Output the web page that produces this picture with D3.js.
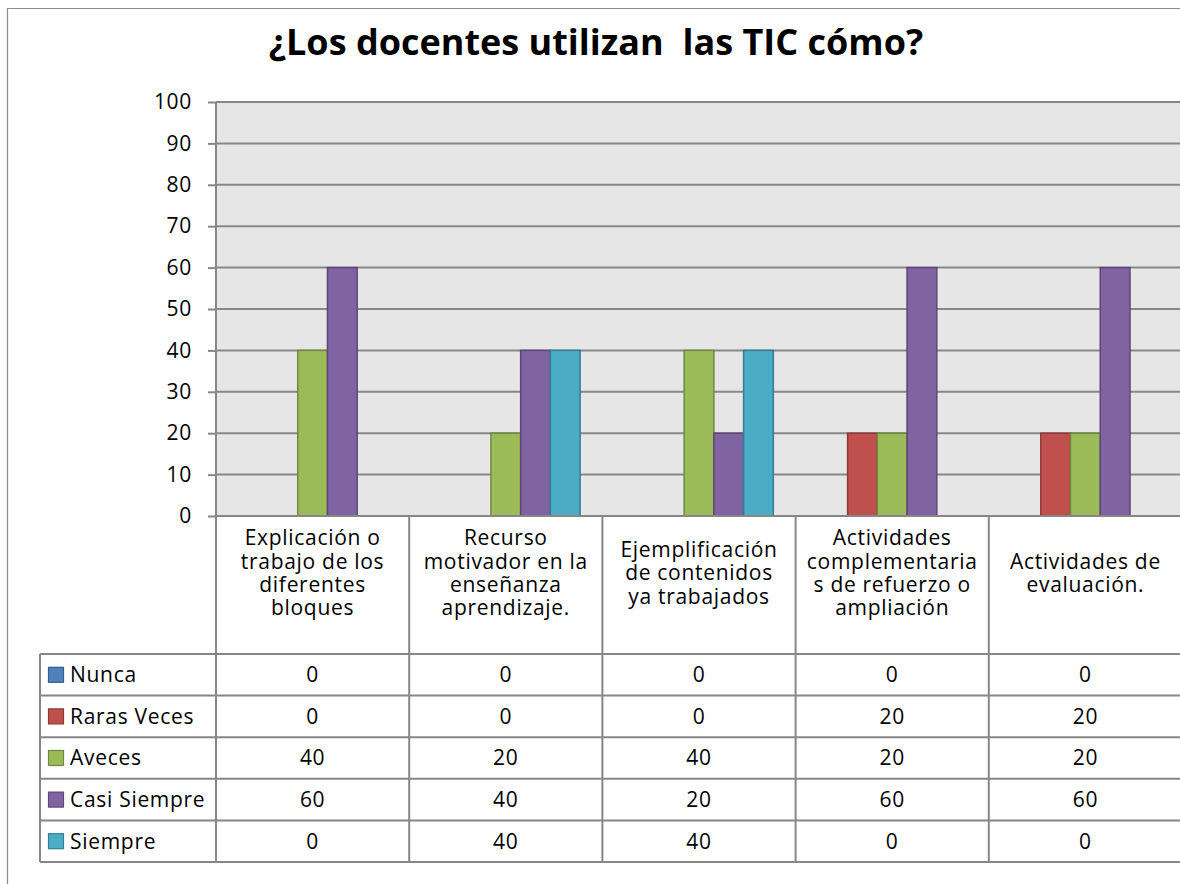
<!DOCTYPE html>
<html>
<head>
<meta charset="utf-8">
<script src="https://cdnjs.cloudflare.com/ajax/libs/d3/7.8.5/d3.min.js"></script>
<style>
  body { margin: 0; background: #fff; }
  text { font-family: "Open Sans", sans-serif; fill: #000; }
</style>
</head>
<body>
<svg width="1180" height="884"></svg>
<script>
  const title = '¿Los docentes utilizan  las TIC cómo?';

  // category labels, already split into lines like the original
  const categories = [
    ['Explicación o', 'trabajo de los', 'diferentes', 'bloques'],
    ['Recurso', 'motivador en la', 'enseñanza', 'aprendizaje.'],
    ['Ejemplificación', 'de contenidos', 'ya trabajados'],
    ['Actividades', 'complementaria', 's de refuerzo o', 'ampliación'],
    ['Actividades de', 'evaluación.']
  ];
  const series = ['Nunca', 'Raras Veces', 'Aveces', 'Casi Siempre', 'Siempre'];

  const nunca = [0, 0, 0, 0, 0];
  const rarasVeces = [0, 0, 0, 20, 20];
  const aveces = [40, 20, 40, 20, 20];
  const casiSiempre = [60, 40, 20, 60, 60];
  const siempre = [0, 40, 40, 0, 0];

  const yTicks = [0, 10, 20, 30, 40, 50, 60, 70, 80, 90, 100];

  const colors = ['#4F81BD', '#C0504D', '#9BBB59', '#8064A2', '#4BACC6'];
  const strokes = ['#385D8A', '#8C3836', '#71893F', '#5C4776', '#357D91'];

  const values = [nunca, rarasVeces, aveces, casiSiempre, siempre];
  const catKeys = categories.map((c, i) => 'c' + i);

  const svg = d3.select('svg');
  const gridColor = '#878787';
  const fontSize = '21px';
  const spacing = '0.7px';

  const plotLeft = 216, plotRight = 1182, plotTop = 102, plotBottom = 516;
  const tableLeft = 40, headerBottom = 654, tableBottom = 862;

  // outer chart border (right/bottom edges fall outside the picture)
  svg.append('path')
      .attr('d', `M7.5,884 V8.5 H1180`)
      .attr('fill', 'none')
      .attr('stroke', '#8c8c8c')
      .attr('stroke-width', 1.2);

  svg.append('text')
      .attr('x', 596)
      .attr('y', 55)
      .attr('text-anchor', 'middle')
      .style('font-weight', 'bold')
      .style('font-size', '36px')
      .style('white-space', 'pre')
      .text(title);

  const xScale = d3.scaleBand()
    .domain(catKeys)
    .range([plotLeft, plotRight]);

  const xInner = d3.scaleBand()
    .domain(series)
    .range([0, xScale.bandwidth()])
    .paddingInner(0)
    .paddingOuter(0.75);

  const yScale = d3.scaleLinear()
    .domain([0, 100])
    .range([plotBottom, plotTop]);

  // plot area
  svg.append('rect')
      .attr('x', plotLeft)
      .attr('y', plotTop)
      .attr('width', plotRight - plotLeft)
      .attr('height', plotBottom - plotTop)
      .attr('fill', '#e6e6e6');

  const yAxis = d3.axisLeft(yScale)
    .tickValues(yTicks)
    .tickSize(8)
    .tickPadding(16);

  const yAxisG = svg.append('g')
      .attr('transform', `translate(${plotLeft},0)`)
      .call(yAxis);
  yAxisG.select('.domain').remove();
  yAxisG.selectAll('.tick line')
      .attr('stroke', gridColor)
      .attr('stroke-width', 2);
  yAxisG.selectAll('.tick text')
      .style('font-size', fontSize)
      .style('letter-spacing', spacing)
      .style('font-family', '"Open Sans", sans-serif');

  // gridlines
  svg.append('g')
    .selectAll('line')
    .data(yTicks)
    .join('line')
      .attr('x1', plotLeft)
      .attr('x2', plotRight)
      .attr('y1', d => yScale(d))
      .attr('y2', d => yScale(d))
      .attr('stroke', gridColor)
      .attr('stroke-width', 2);

  // bars
  const barData = [];
  series.forEach((s, si) => {
    values[si].forEach((v, ci) => {
      if (v > 0) barData.push({ s, si, cat: catKeys[ci], v });
    });
  });

  svg.append('g')
    .selectAll('rect')
    .data(barData)
    .join('rect')
      .attr('x', d => xScale(d.cat) + xInner(d.s))
      .attr('y', d => yScale(d.v))
      .attr('width', xInner.bandwidth())
      .attr('height', d => yScale(0) - yScale(d.v))
      .attr('fill', d => colors[d.si])
      .attr('stroke', d => strokes[d.si])
      .attr('stroke-width', 1.5);

  // data table
  const rowScale = d3.scaleBand()
    .domain(series)
    .range([headerBottom, tableBottom]);

  const table = svg.append('g');

  // horizontal lines
  const hLines = [plotBottom].concat(series.map(s => rowScale(s)), [tableBottom]);
  table.selectAll('line.h')
    .data(hLines)
    .join('line')
      .attr('class', 'h')
      .attr('x1', (d, i) => i === 0 ? plotLeft : tableLeft)
      .attr('x2', plotRight)
      .attr('y1', d => d)
      .attr('y2', d => d)
      .attr('stroke', gridColor)
      .attr('stroke-width', 2);

  // vertical lines
  const vLines = catKeys.map(c => xScale(c)).concat([plotRight]);
  table.selectAll('line.v')
    .data(vLines)
    .join('line')
      .attr('class', 'v')
      .attr('x1', d => d)
      .attr('x2', d => d)
      .attr('y1', (d, i) => i === 0 ? plotTop : plotBottom)
      .attr('y2', tableBottom)
      .attr('stroke', gridColor)
      .attr('stroke-width', 2);

  table.append('line')
      .attr('x1', tableLeft)
      .attr('x2', tableLeft)
      .attr('y1', headerBottom)
      .attr('y2', tableBottom)
      .attr('stroke', gridColor)
      .attr('stroke-width', 2);

  // category headers
  const lineH = 23.4;
  categories.forEach((lines, ci) => {
    const cx = xScale(catKeys[ci]) + xScale.bandwidth() / 2;
    const cy = 573 - (lines.length - 1) * lineH / 2;
    const t = table.append('text')
        .attr('text-anchor', 'middle')
        .style('font-size', fontSize)
        .style('letter-spacing', spacing);
    lines.forEach((ln, li) => {
      t.append('tspan')
          .attr('x', cx)
          .attr('y', cy + li * lineH)
          .attr('dy', '0.35em')
          .text(ln);
    });
  });

  // legend column
  series.forEach((s, si) => {
    const cy = rowScale(s) + rowScale.bandwidth() / 2;
    table.append('rect')
        .attr('x', 48.5)
        .attr('y', cy - 7.5)
        .attr('width', 15)
        .attr('height', 15)
        .attr('fill', colors[si])
        .attr('stroke', strokes[si])
        .attr('stroke-width', 1.2);
    table.append('text')
        .attr('x', 70)
        .attr('y', cy)
        .attr('dy', '0.35em')
        .style('font-size', fontSize)
        .style('letter-spacing', spacing)
        .text(s);

    values[si].forEach((v, ci) => {
      table.append('text')
          .attr('x', xScale(catKeys[ci]) + xScale.bandwidth() / 2)
          .attr('y', cy)
          .attr('dy', '0.35em')
          .attr('text-anchor', 'middle')
          .style('font-size', fontSize)
          .style('letter-spacing', spacing)
          .text(v);
    });
  });
</script>
</body>
</html>
